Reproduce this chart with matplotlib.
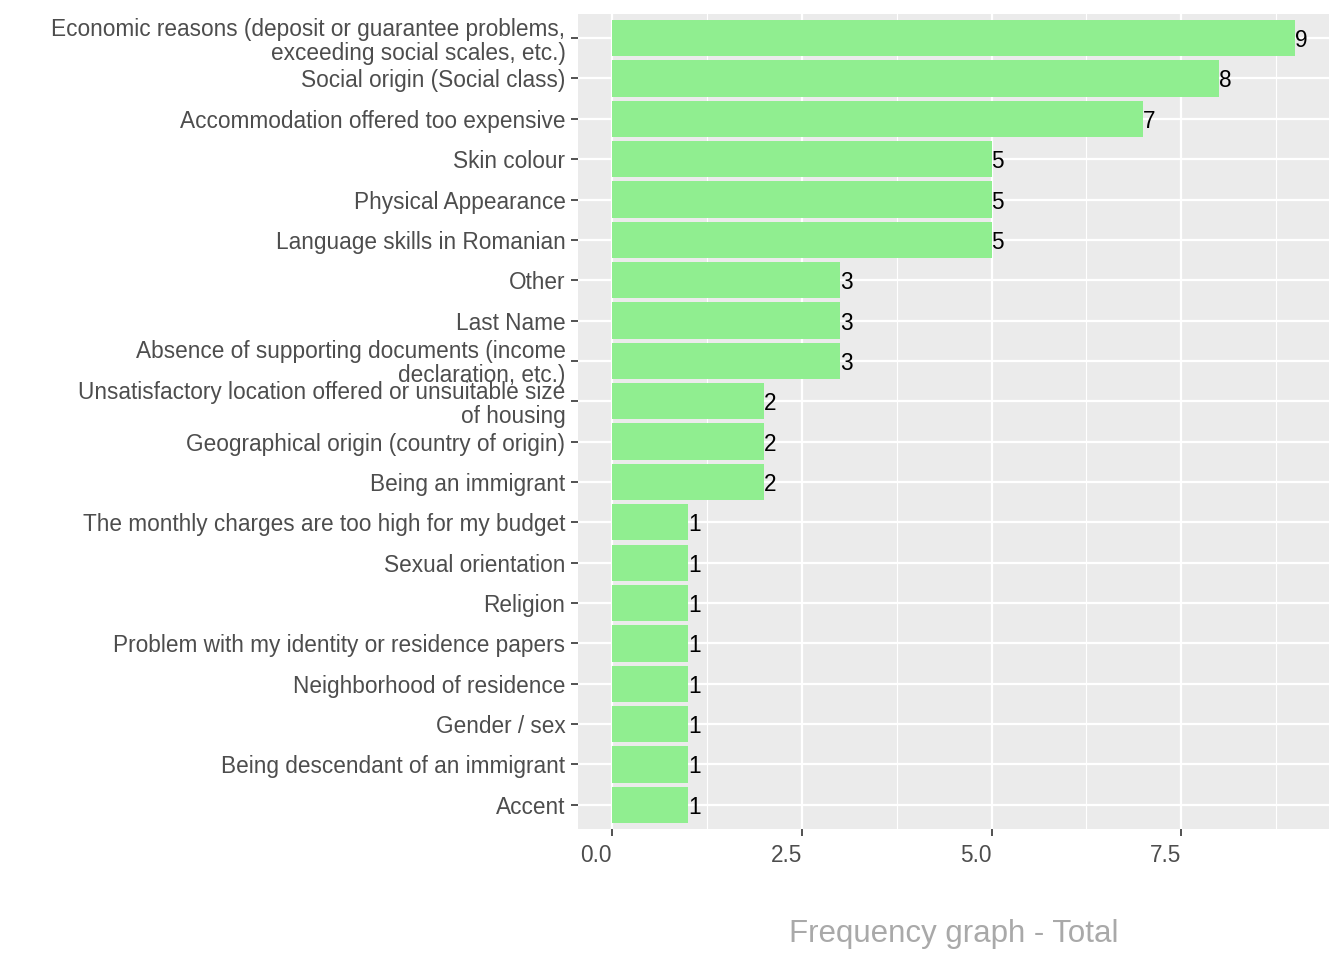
import matplotlib
matplotlib.use('Agg')  # headless
import matplotlib.pyplot as plt
from matplotlib.ticker import MultipleLocator

# categories from top to bottom, with counts
categories = [
    "Economic reasons (deposit or guarantee problems,\nexceeding social scales, etc.)",
    "Social origin (Social class)",
    "Accommodation offered too expensive",
    "Skin colour",
    "Physical Appearance",
    "Language skills in Romanian",
    "Other",
    "Last Name",
    "Absence of supporting documents (income\ndeclaration, etc.)",
    "Unsatisfactory location offered or unsuitable size\nof housing",
    "Geographical origin (country of origin)",
    "Being an immigrant",
    "The monthly charges are too high for my budget",
    "Sexual orientation",
    "Religion",
    "Problem with my identity or residence papers",
    "Neighborhood of residence",
    "Gender / sex",
    "Being descendant of an immigrant",
    "Accent",
]
counts = [9, 8, 7, 5, 5, 5, 3, 3, 3, 2, 2, 2, 1, 1, 1, 1, 1, 1, 1, 1]
x_ticks = [0.0, 2.5, 5.0, 7.5]
x_tick_labels = ["0.0", "2.5", "5.0", "7.5"]

plt.rcParams['font.family'] = ['Liberation Sans', 'DejaVu Sans']

fig = plt.figure(figsize=(13.44, 9.6), dpi=100)
ax = fig.add_axes([0.430, 0.1365, 0.559, 0.849])

n = len(categories)
ypos = list(range(n, 0, -1))  # first category at top

ax.set_facecolor('#EBEBEB')
for s in ax.spines.values():
    s.set_visible(False)

ax.barh(ypos, counts, height=0.9, color='#90EE90', zorder=3)
for y, v in zip(ypos, counts):
    ax.text(v, y, str(v), ha='left', va='center_baseline', fontsize=16.3,
            color='black', zorder=4)

ax.set_xlim(-0.45, 9.45)
ax.set_ylim(0.4, n + 0.6)

ax.set_xticks(x_ticks)
ax.set_xticklabels(x_tick_labels, ha='right')
ax.xaxis.set_minor_locator(MultipleLocator(1.25))
ax.set_yticks(ypos)
ax.set_yticklabels(categories, linespacing=1.05)

ax.grid(which='major', color='white', linewidth=1.6, zorder=1)
ax.grid(which='minor', axis='x', color='white', linewidth=0.8, zorder=1)
ax.set_axisbelow(True)

ax.tick_params(axis='both', which='major', length=5, width=1.2,
               color='#333333', labelcolor='#4D4D4D', labelsize=16.3)
ax.tick_params(axis='x', which='minor', length=0)
ax.tick_params(axis='y', pad=4)
ax.tick_params(axis='x', pad=6)

ax.set_xlabel("Frequency graph - Total", fontsize=22.5, color='#A9A9A9',
              labelpad=37)

plt.savefig("out.png", dpi=100)
plt.close()
